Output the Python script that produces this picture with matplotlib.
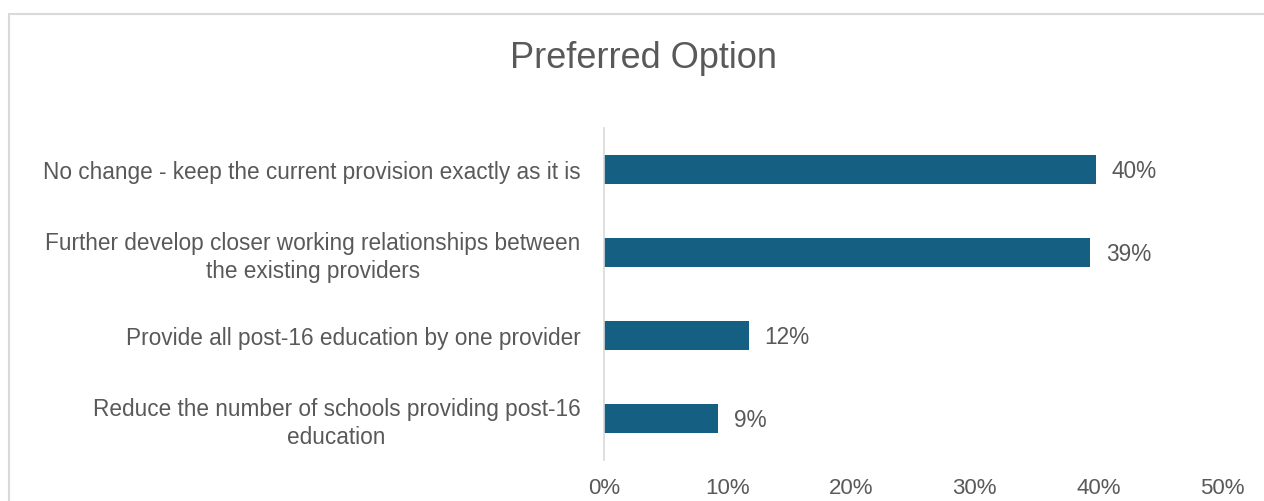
import matplotlib.pyplot as plt
from matplotlib.patches import Rectangle

categories = [
    "No change - keep the current provision exactly as it is",
    "Further develop closer working relationships between\nthe existing providers",
    "Provide all post-16 education by one provider",
    "Reduce the number of schools providing post-16\neducation",
]
values = [0.398, 0.393, 0.117, 0.092]
value_labels = ["40%", "39%", "12%", "9%"]
ticks = [0, 0.1, 0.2, 0.3, 0.4, 0.5]
tick_labels = ["0%", "10%", "20%", "30%", "40%", "50%"]

bar_color = "#156082"
text_color = "#595959"

plt.rcParams['font.family'] = ['Liberation Sans', 'DejaVu Sans']

fig = plt.figure(figsize=(12.64, 5.01), dpi=100)
ax = fig.add_axes([604 / 1264, 1 - 460 / 501, (1222 - 604) / 1264, 332 / 501])

# chart frame (partly cropped in the original)
fig.patches.append(Rectangle((9 / 1264, -0.1), 1.1, 1 - 14 / 501 + 0.1,
                             transform=fig.transFigure, fill=False,
                             edgecolor="#d9d9d9", linewidth=1.5))

ypos = list(range(len(categories)))
ax.barh(ypos, values, height=0.36, color=bar_color)
for y, v, lab in zip(ypos, values, value_labels):
    ax.text(v + 0.013, y + 0.03, lab, va="center", ha="left", fontsize=16.3, color=text_color)

ax.set_xlim(0, 0.5)
ax.set_ylim(3.5, -0.5)
ax.set_yticks(ypos)
ax.set_yticklabels(categories, fontsize=16.3, color=text_color, ha="right",
                   multialignment="center", linespacing=1.3)
ax.set_xticks(ticks)
ax.set_xticklabels(tick_labels, fontsize=16, color=text_color)
ax.tick_params(axis="both", length=0)
ax.tick_params(axis="x", pad=13)
ax.tick_params(axis="y", pad=17)

for s in ["top", "right", "bottom"]:
    ax.spines[s].set_visible(False)
ax.spines["left"].set_color("#d9d9d9")
ax.spines["left"].set_linewidth(1.2)

fig.text(643 / 1264, 1 - 59 / 501, "Preferred Option", ha="center", va="center",
         fontsize=26, color=text_color)

fig.savefig("out.png", dpi=100)
